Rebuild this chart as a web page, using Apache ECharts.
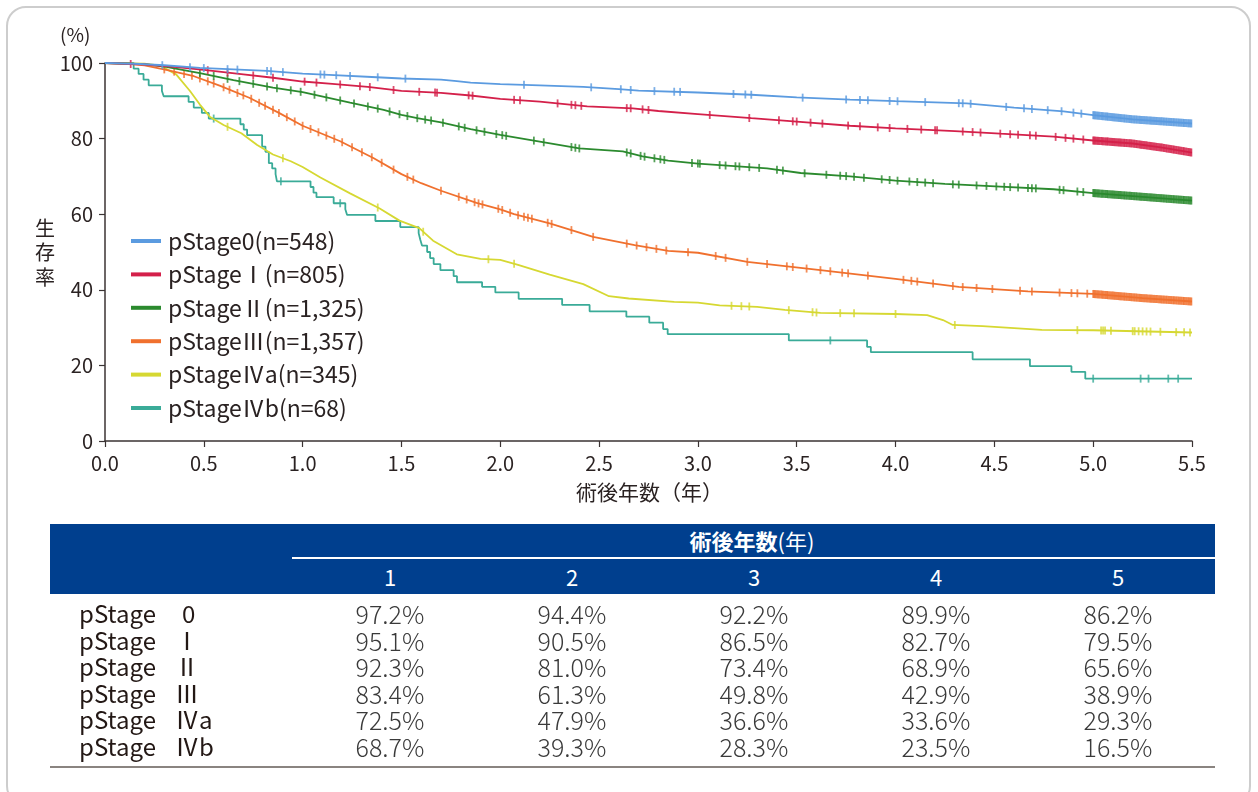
<!DOCTYPE html>
<html>
<head>
<meta charset="utf-8">
<script src="https://cdn.jsdelivr.net/npm/echarts@6/dist/echarts.min.js"></script>
<style>
  body { margin: 0; background: #fff; font-family: "Noto Sans CJK JP", "Noto Sans", sans-serif; }
  #frame { position: absolute; left: 6px; top: 6px; width: 1245px; height: 800px; border: 2px solid #cdcdcd; border-radius: 20px; box-sizing: border-box; }
  #chart { position: absolute; left: 0; top: 0; width: 1258px; height: 792px; }
  #tbl { position: absolute; left: 0; top: 0; width: 1258px; height: 792px; }
  .hdr { position: absolute; left: 50px; top: 524px; width: 1165px; height: 70px; background: #003f8e; }
  .hline { position: absolute; left: 292px; top: 557px; width: 923px; height: 1.5px; background: #fff; }
  .htitle { position: absolute; top: 525px; width: 300px; margin-left: -150px; text-align: center; color: #fff; font-size: 22px; line-height: 30px; }
  .hnum { position: absolute; top: 561px; width: 60px; margin-left: -30px; text-align: center; color: #fff; font-size: 22px; line-height: 30px; }
  .cell { position: absolute; width: 120px; margin-left: -60px; text-align: center; color: #3a3a3a; font-size: 25px; font-weight: 300; line-height: 26px; }
  .lab { position: absolute; left: 79px; color: #231815; font-size: 24px; line-height: 26px; }
  .num { position: absolute; left: 182px; color: #231815; font-size: 24px; line-height: 26px; }
  .bline { position: absolute; left: 50px; top: 766px; width: 1165px; height: 2px; background: #8a8480; }
</style>
</head>
<body>
<div id="frame"></div>
<div id="chart"></div>
<div id="tbl"></div>
<script>
// ---- data ----
var names = ['pStage0(n=548)', 'pStageⅠ(n=805)', 'pStageⅡ(n=1,325)', 'pStageⅢ(n=1,357)', 'pStageⅣa(n=345)', 'pStageⅣb(n=68)'];
var colors = ['#5b9be0', '#d4204a', '#2b8a2e', '#f0702e', '#d6d832', '#3aab98'];

// [years, survival %]
var curve0 = [[0,100],[0.15,99.8],[0.3,99.4],[0.48,98.7],[0.65,98.3],[0.82,97.9],[1.0,97.2],[1.16,96.8],[1.35,96.3],[1.5,95.9],[1.7,95.6],[1.78,95.2],[1.85,94.8],[2.0,94.4],[2.2,94.1],[2.42,93.7],[2.6,93.1],[2.7,92.7],[3.0,92.2],[3.27,91.6],[3.5,90.9],[3.77,90.3],[4.0,89.9],[4.36,89.3],[4.6,88.2],[4.85,87.2],[5.0,86.2],[5.2,85.1],[5.5,84.0]];
var curve1 = [[0,100],[0.2,99.6],[0.35,99.0],[0.5,98.2],[0.7,97.0],[0.85,96.1],[1.0,95.1],[1.15,94.5],[1.33,93.7],[1.5,92.6],[1.7,92.1],[1.85,91.4],[2.0,90.5],[2.2,89.8],[2.44,88.5],[2.67,88.0],[2.8,87.3],[3.0,86.5],[3.27,85.4],[3.5,84.5],[3.77,83.4],[4.0,82.7],[4.3,82.0],[4.53,81.3],[4.8,80.5],[5.0,79.5],[5.2,78.7],[5.35,77.6],[5.5,76.3]];
var curve2 = [[0,100],[0.2,99.7],[0.31,99.0],[0.48,97.3],[0.65,95.5],[0.85,93.5],[1.0,92.3],[1.24,89.5],[1.41,87.6],[1.5,86.3],[1.58,85.4],[1.7,84.3],[1.85,82.5],[2.0,81.0],[2.2,79.2],[2.4,77.4],[2.62,76.6],[2.72,75.3],[2.85,74.2],[3.0,73.4],[3.35,72.1],[3.52,70.9],[3.77,70.0],[4.0,68.9],[4.25,68.0],[4.53,67.3],[4.8,66.6],[5.0,65.6],[5.25,64.6],[5.5,63.6]];
var curve3 = [[0,100],[0.12,99.8],[0.2,99.4],[0.31,98.2],[0.45,96.5],[0.58,94.0],[0.73,90.8],[0.88,86.8],[1.0,83.4],[1.19,79.3],[1.36,74.8],[1.5,70.6],[1.6,68.2],[1.7,66.2],[1.88,63.0],[2.0,61.3],[2.07,60.0],[2.25,57.6],[2.47,54.0],[2.68,51.8],[2.85,50.3],[3.0,49.8],[3.25,47.4],[3.62,45.2],[4.0,42.9],[4.32,40.8],[4.67,39.6],[5.0,38.9],[5.25,37.8],[5.5,36.9]];
var curve4a = [[0,100],[0.2,99.8],[0.28,99.3],[0.36,97.0],[0.43,92.6],[0.48,89.0],[0.53,85.8],[0.6,83.6],[0.69,81.4],[0.77,78.3],[0.85,75.8],[0.94,74.0],[1.0,72.5],[1.09,69.7],[1.24,65.5],[1.39,61.5],[1.49,58.3],[1.59,56.3],[1.66,53.0],[1.78,49.4],[1.9,48.2],[2.0,47.9],[2.09,46.6],[2.25,44.0],[2.42,41.5],[2.55,38.3],[2.65,37.7],[2.88,36.8],[3.0,36.6],[3.11,35.9],[3.3,35.5],[3.44,34.7],[3.62,33.9],[4.0,33.6],[4.16,33.3],[4.24,32.0],[4.29,30.7],[4.44,30.4],[4.74,29.4],[5.0,29.3],[5.5,28.7]];
// step curve: value after the drop at each time
var curve4b = [[0,100],[0.145,98.5],[0.17,97.1],[0.195,95.6],[0.221,94.1],[0.288,92.6],[0.297,91.2],[0.423,89.7],[0.449,88.2],[0.49,86.8],[0.525,85.3],[0.685,83.8],[0.702,82.4],[0.719,80.9],[0.795,77.9],[0.812,76.5],[0.829,73.5],[0.846,72.1],[0.863,70.6],[0.87,68.7],[1.04,67.2],[1.055,65.7],[1.07,64.5],[1.157,62.9],[1.216,61.3],[1.225,59.8],[1.368,58.2],[1.494,56.6],[1.587,55.0],[1.595,53.3],[1.604,51.7],[1.63,50.0],[1.645,48.4],[1.663,46.8],[1.697,45.2],[1.764,43.6],[1.781,42.0],[1.908,40.8],[1.975,39.3],[2.093,37.6],[2.313,36.0],[2.452,34.3],[2.638,32.9],[2.754,31.3],[2.824,29.6],[2.847,28.3],[3.46,26.6],[3.856,24.9],[3.875,23.5],[4.39,21.6],[4.68,19.8],[4.89,18.3],[4.96,16.5],[5.5,16.5]];

// censoring times (years)
var lateCensor = [5.0,5.005,5.01,5.016,5.022,5.027,5.033,5.04,5.046,5.051,5.058,5.064,5.07,5.075,5.082,5.088,5.094,5.1,5.106,5.112,5.118,5.124,5.13,5.136,5.142,5.148,5.155,5.16,5.167,5.173,5.18,5.186,5.192,5.198,5.205,5.21,5.217,5.223,5.23,5.236,5.242,5.248,5.255,5.26,5.267,5.273,5.28,5.286,5.292,5.298,5.305,5.31,5.317,5.323,5.33,5.336,5.342,5.348,5.355,5.36,5.367,5.373,5.38,5.386,5.392,5.398,5.405,5.41,5.417,5.423,5.43,5.436,5.442,5.448,5.455,5.46,5.467,5.473,5.48,5.486,5.492,5.497];
var cens0 = [0.29,0.43,0.5,0.62,0.67,0.82,0.84,0.9,1.09,1.11,1.17,1.24,1.38,1.52,2.12,2.46,2.61,2.66,2.78,2.88,2.91,3.18,3.24,3.27,3.53,3.75,3.82,3.86,3.97,4.01,4.15,4.32,4.34,4.38,4.56,4.65,4.69,4.77,4.84,4.9,4.94];
var cens1 = [0.13,0.52,0.62,0.75,0.85,1.01,1.07,1.19,1.29,1.34,1.46,1.59,1.67,1.68,1.84,1.86,2.07,2.1,2.29,2.36,2.38,2.41,2.64,2.66,2.72,2.75,3.06,3.26,3.41,3.48,3.5,3.57,3.63,3.76,3.82,3.91,3.97,4.06,4.13,4.2,4.21,4.34,4.39,4.43,4.53,4.58,4.62,4.68,4.71,4.81,4.86,4.9,4.95];
var cens2 = [0.48,0.55,0.62,0.68,0.75,0.82,0.87,0.94,0.99,1.06,1.12,1.19,1.26,1.33,1.38,1.44,1.49,1.53,1.58,1.62,1.65,1.71,1.79,1.82,1.88,1.92,1.98,2.01,2.03,2.17,2.22,2.36,2.38,2.4,2.64,2.66,2.71,2.73,2.78,2.81,2.83,2.97,3.0,3.01,3.11,3.14,3.19,3.21,3.26,3.31,3.4,3.43,3.54,3.65,3.72,3.75,3.79,3.84,3.93,3.97,4.01,4.07,4.11,4.15,4.19,4.29,4.32,4.41,4.46,4.51,4.55,4.58,4.62,4.67,4.69,4.71,4.83,4.85,4.92,4.95];
var cens3 = [0.3,0.35,0.4,0.44,0.48,0.52,0.55,0.6,0.63,0.67,0.7,0.74,0.78,0.81,0.85,0.88,0.92,0.96,1.0,1.04,1.08,1.12,1.16,1.2,1.25,1.3,1.35,1.4,1.46,1.53,1.56,1.7,1.79,1.83,1.87,1.89,1.91,1.99,2.01,2.05,2.09,2.12,2.14,2.16,2.24,2.26,2.36,2.47,2.64,2.69,2.74,2.79,2.84,2.95,3.09,3.14,3.25,3.35,3.45,3.48,3.55,3.62,3.67,3.73,3.76,3.86,4.04,4.08,4.11,4.19,4.29,4.34,4.41,4.49,4.63,4.69,4.83,4.89,4.92,4.97];
var cens4a = [0.62,0.9,1.38,1.61,1.94,2.07,3.17,3.22,3.26,3.46,3.58,3.6,3.72,3.79,4.0,4.3,4.92,5.04,5.05,5.06,5.09,5.2,5.21,5.23,5.25,5.27,5.29,5.34,5.42,5.46,5.49];
var cens4b = [0.55,0.89,1.19,3.67,5.0,5.24,5.28,5.38,5.43];

// table below the chart
var tableYears = ['1', '2', '3', '4', '5'];
var rowStages = ['0', 'Ⅰ', 'Ⅱ', 'Ⅲ', 'Ⅳa', 'Ⅳb'];
var rate0 = [97.2, 94.4, 92.2, 89.9, 86.2];
var rate1 = [95.1, 90.5, 86.5, 82.7, 79.5];
var rate2 = [92.3, 81.0, 73.4, 68.9, 65.6];
var rate3 = [83.4, 61.3, 49.8, 42.9, 38.9];
var rate4a = [72.5, 47.9, 36.6, 33.6, 29.3];
var rate4b = [68.7, 39.3, 28.3, 23.5, 16.5];

// ---- chart ----
var FONT = '"Noto Sans CJK JP", "Noto Sans", sans-serif';
var curves = [curve0, curve1, curve2, curve3, curve4a, curve4b];
var censors = [cens0.concat(lateCensor), cens1.concat(lateCensor), cens2.concat(lateCensor), cens3.concat(lateCensor), cens4a, cens4b];

// survival value on a curve at time t (step lookup for the KM step curve)
function onCurve(c, t, stepped) {
  for (var i = 1; i < c.length; i++) {
    if (c[i][0] >= t) {
      if (stepped) return t >= c[i][0] ? c[i][1] : c[i - 1][1];
      var f = (t - c[i - 1][0]) / (c[i][0] - c[i - 1][0]);
      return c[i - 1][1] + f * (c[i][1] - c[i - 1][1]);
    }
  }
  return c[c.length - 1][1];
}

var series = [];
curves.forEach(function (c, i) {
  series.push({
    name: names[i], type: 'line', data: c, showSymbol: false, symbol: 'none',
    step: i === 5 ? 'end' : false,
    lineStyle: { color: colors[i], width: 1.8 }, itemStyle: { color: colors[i] },
    z: 2 + (5 - i)
  });
});
curves.forEach(function (c, i) {
  series.push({
    name: names[i] + ' censored', type: 'scatter', silent: true,
    symbol: 'rect', symbolSize: [1.8, 8],
    itemStyle: { color: colors[i] },
    data: censors[i].map(function (t) { return [t, onCurve(c, t, i === 5)]; }),
    z: 2 + (5 - i)
  });
});

var axisCol = '#3b3333';
var chart = echarts.init(document.getElementById('chart'));
chart.setOption({
  animation: false,
  grid: { left: 105, right: 66, top: 63, bottom: 351, containLabel: false, outerBoundsMode: 'none' },
  xAxis: {
    type: 'value', min: 0, max: 5.5, interval: 0.5,
    axisLine: { show: true, lineStyle: { color: axisCol, width: 1.5 } },
    axisTick: { show: true, length: 6, lineStyle: { color: axisCol, width: 1.2 } },
    axisLabel: { fontSize: 20, color: '#2a2222', margin: 12, fontFamily: FONT,
      formatter: function (v) { return v.toFixed(1); } },
    splitLine: { show: false }
  },
  yAxis: {
    type: 'value', min: 0, max: 100, interval: 20,
    axisLine: { show: true, lineStyle: { color: axisCol, width: 1.5 } },
    axisTick: { show: true, length: 6, lineStyle: { color: axisCol, width: 1.2 } },
    axisLabel: { fontSize: 20, color: '#2a2222', margin: 12, fontFamily: FONT },
    splitLine: { show: false }
  },
  legend: {
    orient: 'vertical', left: 126, top: 224, itemGap: 9.4,
    itemWidth: 30, itemHeight: 4, icon: 'rect',
    data: names,
    textStyle: { fontSize: 23, color: '#2a2222', lineHeight: 24, fontFamily: FONT, padding: [0, 0, 0, 2] }
  },
  graphic: [
    { type: 'text', left: 60, top: 25, style: { text: '(%)', fontSize: 19, fill: '#2a2222', fontFamily: FONT } },
    { type: 'text', left: 35, top: 216, style: { text: '生\n存\n率', fontSize: 20, lineHeight: 24.5, fill: '#2a2222', fontFamily: FONT, align: 'left' } },
    { type: 'text', left: 576, top: 482, style: { text: '術後年数（年）', fontSize: 21, fill: '#2a2222', fontFamily: FONT } }
  ],
  series: series
});

// ---- table ----
var rates = [rate0, rate1, rate2, rate3, rate4a, rate4b];
var colX = [390, 572, 754, 936, 1118];
var rowY = [600, 626.5, 653, 679.5, 706, 732.5];
var html = '<div class="hdr"></div><div class="hline"></div>';
html += '<div class="htitle" style="left:752px"><b>術後年数</b>(年)</div>';
tableYears.forEach(function (y, j) {
  html += '<div class="hnum" style="left:' + colX[j] + 'px">' + y + '</div>';
});
rowStages.forEach(function (s, i) {
  var shift = i === 0 ? 0 : -7;
  html += '<div class="lab" style="top:' + rowY[i] + 'px">pStage</div>';
  html += '<div class="num" style="top:' + rowY[i] + 'px;margin-left:' + shift + 'px">' + s + '</div>';
  rates[i].forEach(function (v, j) {
    html += '<div class="cell" style="left:' + colX[j] + 'px;top:' + rowY[i] + 'px">' + v.toFixed(1) + '%</div>';
  });
});
html += '<div class="bline"></div>';
document.getElementById('tbl').innerHTML = html;
</script>
</body>
</html>
